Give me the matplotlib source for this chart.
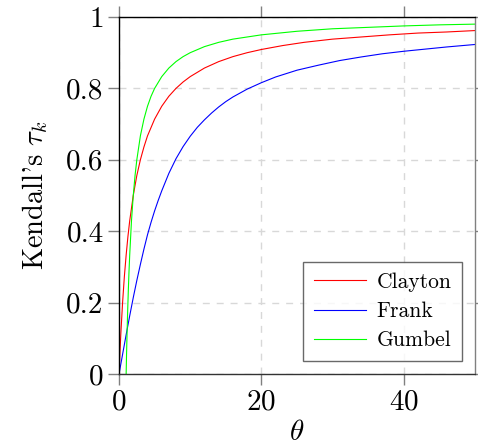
import matplotlib
matplotlib.use('Agg')
import matplotlib.pyplot as plt

plt.rcParams['font.family'] = ['cmr10', 'DejaVu Serif']
plt.rcParams['mathtext.fontset'] = 'cm'
plt.rcParams['axes.formatter.use_mathtext'] = True

# values
clayton_theta = [0, 0.1, 0.25, 0.5, 0.75, 1, 1.25, 1.5, 2, 2.5, 3, 3.5, 4, 5, 6, 7, 8, 9, 10,
                 12, 14, 16, 18, 20, 23, 26, 30, 34, 38, 42, 46, 50]
clayton_tau = [0, 0.048, 0.111, 0.2, 0.273, 0.333, 0.385, 0.429, 0.5, 0.556, 0.6, 0.636, 0.667,
               0.714, 0.75, 0.778, 0.8, 0.818, 0.833, 0.857, 0.875, 0.889, 0.9, 0.909, 0.92,
               0.929, 0.938, 0.944, 0.95, 0.955, 0.958, 0.962]

frank_theta = [0, 0.5, 1, 1.5, 2, 2.5, 3, 3.5, 4, 4.5, 5, 5.5, 6, 7, 8, 9, 10, 11, 12, 13, 14,
               15, 16, 18, 20, 22, 25, 28, 31, 34, 37, 40, 43, 46, 50]
frank_tau = [0, 0.055, 0.110, 0.163, 0.214, 0.262, 0.307, 0.350, 0.390, 0.425, 0.457, 0.486,
             0.513, 0.562, 0.603, 0.637, 0.666, 0.691, 0.712, 0.731, 0.748, 0.763, 0.776,
             0.798, 0.816, 0.832, 0.851, 0.865, 0.878, 0.888, 0.897, 0.904, 0.910, 0.916, 0.923]

gumbel_theta = [1, 1.05, 1.1, 1.2, 1.3, 1.4, 1.5, 1.75, 2, 2.25, 2.5, 3, 3.5, 4, 4.5, 5, 6, 7,
                8, 9, 10, 12, 14, 16, 18, 20, 25, 30, 35, 40, 45, 50]
gumbel_tau = [0, 0.048, 0.091, 0.167, 0.231, 0.286, 0.333, 0.429, 0.5, 0.556, 0.6, 0.667,
              0.714, 0.75, 0.778, 0.8, 0.833, 0.857, 0.875, 0.889, 0.9, 0.917, 0.929, 0.938,
              0.944, 0.95, 0.96, 0.967, 0.971, 0.975, 0.978, 0.98]

fig = plt.figure(figsize=(4.78, 4.46), dpi=100)
ax = fig.add_axes([0.249, 0.1614, 0.7447, 0.8005])

ax.plot(clayton_theta, clayton_tau, color='red', lw=0.8, label='Clayton')
ax.plot(frank_theta, frank_tau, color='blue', lw=0.8, label='Frank')
ax.plot(gumbel_theta, gumbel_tau, color='#00ff00', lw=0.8, label='Gumbel')

ax.set_xlim(0, 50)
ax.set_ylim(0, 1)
ax.set_xticks([0, 20, 40])
ax.set_yticks([0, 0.2, 0.4, 0.6, 0.8, 1])
ax.set_yticklabels(['0', '0.2', '0.4', '0.6', '0.8', '1'])
ax.grid(True, color='#d8d8d8', ls=(0, (5, 5)), lw=1)
ax.set_axisbelow(True)

ax.tick_params(direction='out', length=8, width=1, color='gray', labelsize=21,
               top=True, right=True, pad=3)
for s in ['top', 'left']:
    ax.spines[s].set_color('black')
ax.spines['bottom'].set_color('#333333')
ax.spines['right'].set_color('gray')
for s in ax.spines.values():
    s.set_linewidth(1.0)

ax.set_xlabel(r'$\theta$', fontsize=21, labelpad=3)
ax.set_ylabel(r"Kendall's $\tau_k$", fontsize=20.5, labelpad=12)

leg = ax.legend(loc='lower right', fontsize=15.5, frameon=True, fancybox=False,
                edgecolor='#444444', handlelength=2.4, handletextpad=0.5,
                borderpad=0.5, labelspacing=0.45, borderaxespad=0.6)
leg.get_frame().set_linewidth(1.0)

fig.savefig('out.png', dpi=100)
